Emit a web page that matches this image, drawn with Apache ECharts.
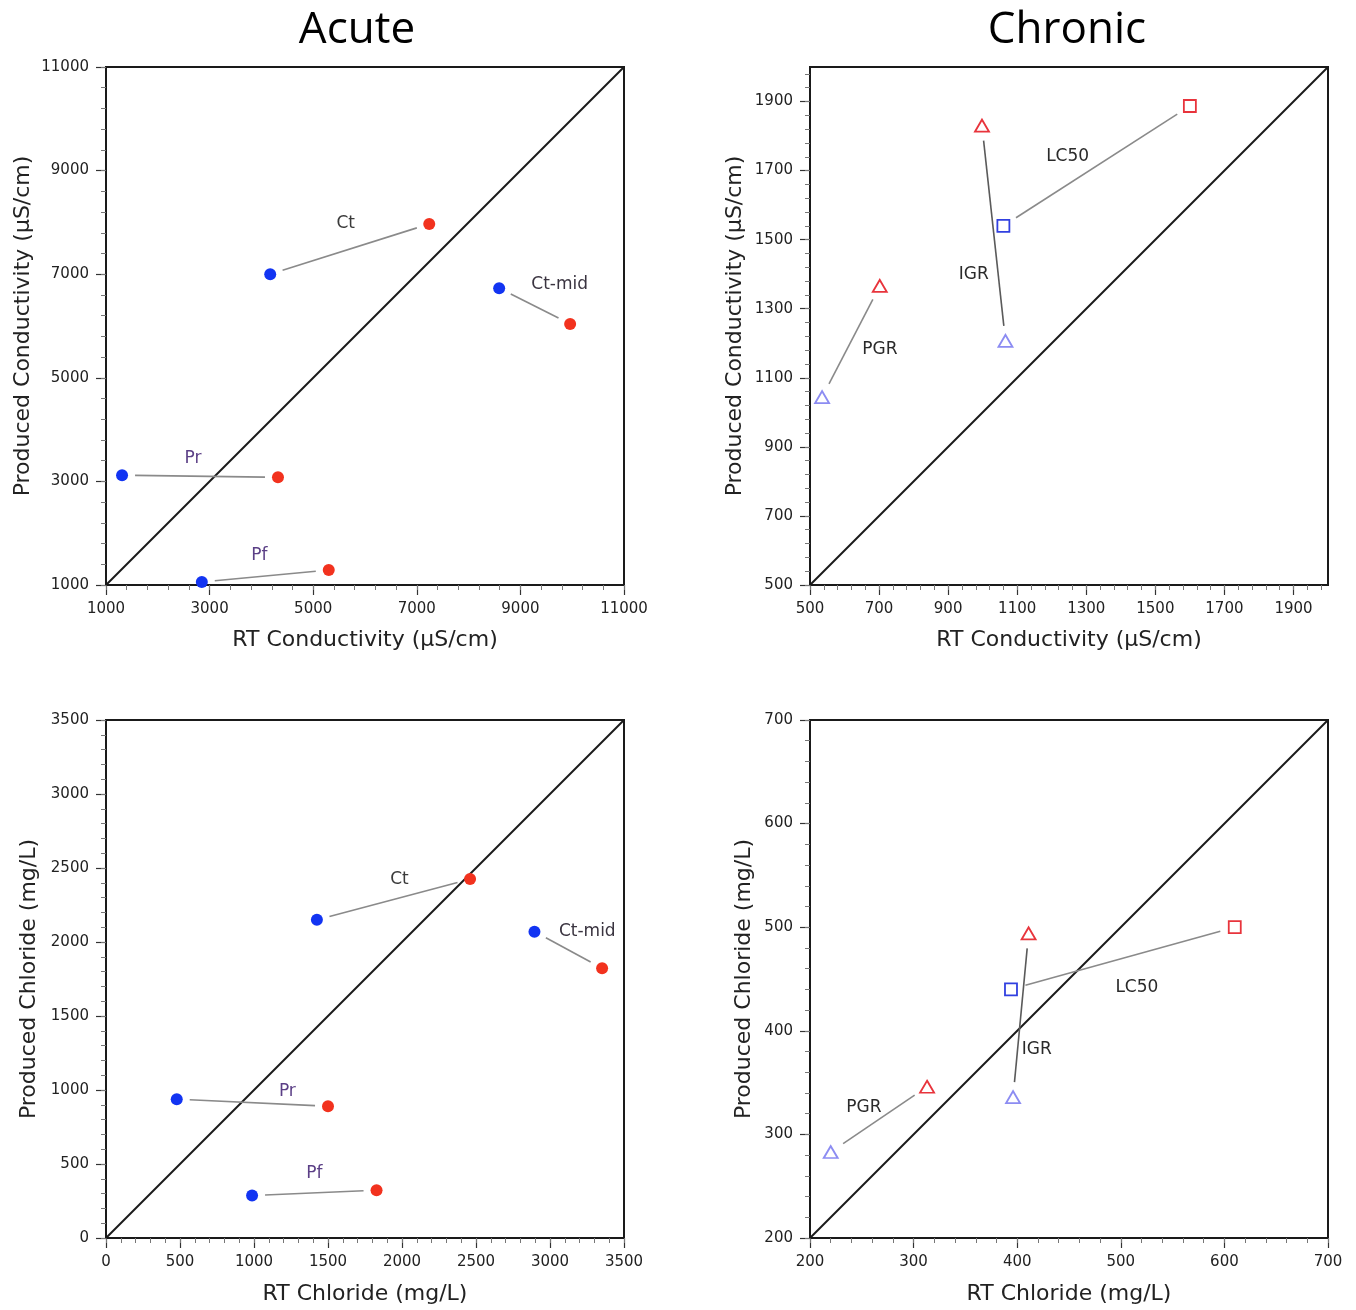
<!DOCTYPE html>
<html>
<head>
<meta charset="utf-8">
<script src="https://cdn.jsdelivr.net/npm/echarts@6/dist/echarts.min.js"></script>
<style>
html,body{margin:0;padding:0;background:#fff;}
#chart{width:1356px;height:1310px;}
</style>
</head>
<body>
<div id="chart"></div>
<script>
// ---------------- DATA ----------------
const PANEL_TITLES = ['Acute', 'Chronic'];

const ACUTE_LABELS = ['Ct', 'Ct-mid', 'Pr', 'Pf'];
const ACUTE_COND_BLUE = [[4170, 7000], [8590, 6730], [1310, 3120], [2850, 1060]];
const ACUTE_COND_RED  = [[7240, 7970], [9960, 6040], [4320, 3080], [5300, 1290]];
const ACUTE_CL_BLUE   = [[1425, 2150], [2895, 2070], [478, 938], [987, 287]];
const ACUTE_CL_RED    = [[2460, 2425], [3352, 1823], [1500, 890], [1828, 323]];

const CHRONIC_LABELS = ['LC50', 'IGR', 'PGR'];
const CHRONIC_COND_BLUE = [[1060, 1540], [1066, 1207], [535, 1044]];
const CHRONIC_COND_RED  = [[1600, 1887], [998, 1830], [702, 1366]];
const CHRONIC_CL_BLUE   = [[394, 440], [396, 336], [220, 283]];
const CHRONIC_CL_RED    = [[610, 500], [411, 494], [313, 346]];

// axis ranges and tick labels
const TICKS_ACUTE_COND   = [1000, 3000, 5000, 7000, 9000, 11000];
const TICKS_CHRONIC_COND = [500, 700, 900, 1100, 1300, 1500, 1700, 1900];
const TICKS_ACUTE_CL     = [0, 500, 1000, 1500, 2000, 2500, 3000, 3500];
const TICKS_CHRONIC_CL   = [200, 300, 400, 500, 600, 700];
const RANGE_ACUTE_COND   = [1000, 11000];
const RANGE_CHRONIC_COND = [500, 2000];
const RANGE_ACUTE_CL     = [0, 3500];
const RANGE_CHRONIC_CL   = [200, 700];

const X_NAMES = ['RT Conductivity (µS/cm)', 'RT Conductivity (µS/cm)', 'RT Chloride (mg/L)', 'RT Chloride (mg/L)'];
const Y_NAMES = ['Produced Conductivity (µS/cm)', 'Produced Conductivity (µS/cm)', 'Produced Chloride (mg/L)', 'Produced Chloride (mg/L)'];

// ---------------- STYLE / LAYOUT ----------------
const FONT = 'DejaVu Sans';
const GRIDS = [
  {left: 106, top: 67, width: 518, height: 518},
  {left: 810, top: 67, width: 518, height: 518},
  {left: 106, top: 720, width: 518, height: 518},
  {left: 810, top: 720, width: 518, height: 518}
];
const Y_NAME_GAP = [72, 64, 66, 55];
const X_NAME_GAP = [44, 44, 45, 45];

const BLUE = '#1234f2', RED = '#f2321e';
const C_RED = '#e8343c', C_BLUE_SQ = '#3140e0', C_BLUE_TRI = '#8c8cf2';
const CHRONIC_SYMBOLS = ['rect', 'triangle', 'triangle'];
const CHRONIC_BLUE_COLORS = [C_BLUE_SQ, C_BLUE_TRI, C_BLUE_TRI];

// label offsets (px) from the segment midpoint
const OFFS_ACUTE_COND = [[-4, -25], [25, -21], [-7, -18], [-6, -20]];
const OFFS_ACUTE_CL   = [[6, -20], [19, -18], [35, -11], [0, -19]];
const OFFS_CHRONIC_COND = [[-29, -9], [-20, 41], [29, 8]];
const OFFS_CHRONIC_CL   = [[14, 29], [16, 34], [-15, -12]];
const ACUTE_LABEL_COLORS = ['#3a3a3a', '#3a3440', '#5b3f86', '#5b3f86'];
const CHRONIC_LABEL_COLORS = ['#2a2a2a', '#2a2a2a', '#2a2a2a'];
const ACUTE_LINE_COLORS = ['#8a8a8a', '#8a8a8a', '#8a8a8a', '#8a8a8a'];
const CHRONIC_LINE_COLORS = ['#8a8a8a', '#5a5a5a', '#8a8a8a'];

// ---------------- BUILD ----------------
function minorTicks(range, ticks) {
  const step = (ticks[1] - ticks[0]) / 5;
  const out = [];
  for (let v = range[0]; v <= range[1] + 1e-9; v += step) out.push(Math.round(v * 1000) / 1000);
  return out;
}

const PANELS = [
  {range: RANGE_ACUTE_COND, ticks: TICKS_ACUTE_COND, blue: ACUTE_COND_BLUE, red: ACUTE_COND_RED, labels: ACUTE_LABELS, offs: OFFS_ACUTE_COND, acute: true},
  {range: RANGE_CHRONIC_COND, ticks: TICKS_CHRONIC_COND, blue: CHRONIC_COND_BLUE, red: CHRONIC_COND_RED, labels: CHRONIC_LABELS, offs: OFFS_CHRONIC_COND, acute: false},
  {range: RANGE_ACUTE_CL, ticks: TICKS_ACUTE_CL, blue: ACUTE_CL_BLUE, red: ACUTE_CL_RED, labels: ACUTE_LABELS, offs: OFFS_ACUTE_CL, acute: true},
  {range: RANGE_CHRONIC_CL, ticks: TICKS_CHRONIC_CL, blue: CHRONIC_CL_BLUE, red: CHRONIC_CL_RED, labels: CHRONIC_LABELS, offs: OFFS_CHRONIC_CL, acute: false}
];

const grid = [], xAxis = [], yAxis = [], series = [];

PANELS.forEach((p, i) => {
  grid.push(Object.assign({show: true, borderColor: '#1a1a1a', borderWidth: 2, backgroundColor: '#fff'}, GRIDS[i]));
  const minors = minorTicks(p.range, p.ticks);
  const labelStyle = {fontFamily: FONT, fontSize: 15, color: '#222', margin: 17,
                      formatter: v => String(v), customValues: p.ticks};
  const common = {gridIndex: i, type: 'value', min: p.range[0], max: p.range[1], splitLine: {show: false}};
  xAxis.push(Object.assign({}, common, {
    position: 'bottom',
    name: X_NAMES[i], nameLocation: 'middle', nameGap: X_NAME_GAP[i],
    nameTextStyle: {fontFamily: FONT, fontSize: 22, color: '#222'},
    axisLine: {show: true, lineStyle: {color: '#1a1a1a', width: 2}},
    axisTick: {show: true, length: 10, customValues: p.ticks, lineStyle: {color: '#333', width: 1.2}},
    axisLabel: labelStyle
  }));
  xAxis.push(Object.assign({}, common, {
    position: 'bottom', offset: 0,
    axisLine: {show: false}, axisLabel: {show: false},
    axisTick: {show: true, length: 5, customValues: minors, lineStyle: {color: '#777', width: 1}}
  }));
  yAxis.push(Object.assign({}, common, {
    position: 'left',
    name: Y_NAMES[i], nameLocation: 'middle', nameGap: Y_NAME_GAP[i],
    nameTextStyle: {fontFamily: FONT, fontSize: 22, color: '#222'},
    axisLine: {show: true, lineStyle: {color: '#1a1a1a', width: 2}},
    axisTick: {show: true, length: 10, customValues: p.ticks, lineStyle: {color: '#333', width: 1.2}},
    axisLabel: labelStyle
  }));
  yAxis.push(Object.assign({}, common, {
    position: 'left', offset: 0,
    axisLine: {show: false}, axisLabel: {show: false},
    axisTick: {show: true, length: 5, customValues: minors, lineStyle: {color: '#777', width: 1}}
  }));

  const xi = 2 * i, yi = 2 * i;
  // 1:1 line
  series.push({
    type: 'line', xAxisIndex: xi, yAxisIndex: yi, symbol: 'none', silent: true, z: 2,
    data: [[p.range[0], p.range[0]], [p.range[1], p.range[1]]],
    lineStyle: {color: '#1a1a1a', width: 2}
  });
  // connectors + labels
  const rows = p.blue.map((b, k) => [b[0], b[1], p.red[k][0], p.red[k][1]]);
  const gap = p.acute ? 13 : 15;
  const lineColors = p.acute ? ACUTE_LINE_COLORS : CHRONIC_LINE_COLORS;
  const labelColors = p.acute ? ACUTE_LABEL_COLORS : CHRONIC_LABEL_COLORS;
  series.push({
    type: 'custom', xAxisIndex: xi, yAxisIndex: yi, z: 3, silent: true,
    encode: {x: [0, 2], y: [1, 3]},
    data: rows,
    renderItem: function (params, api) {
      const a = api.coord([api.value(0), api.value(1)]);
      const b = api.coord([api.value(2), api.value(3)]);
      const dx = b[0] - a[0], dy = b[1] - a[1];
      const len = Math.hypot(dx, dy) || 1;
      const ux = dx / len, uy = dy / len;
      const k = params.dataIndex;
      const off = p.offs[k];
      return {
        type: 'group',
        children: [
          {type: 'line', shape: {x1: a[0] + ux * gap, y1: a[1] + uy * gap, x2: b[0] - ux * gap, y2: b[1] - uy * gap},
           style: {stroke: lineColors[k], lineWidth: 1.6}},
          {type: 'text', x: (a[0] + b[0]) / 2 + off[0], y: (a[1] + b[1]) / 2 + off[1],
           style: {text: p.labels[k], fill: labelColors[k], fontFamily: FONT, fontSize: 17,
                   align: 'center', verticalAlign: 'middle'}}
        ]
      };
    }
  });
  // points
  if (p.acute) {
    series.push({type: 'scatter', name: 'Group 1', xAxisIndex: xi, yAxisIndex: yi, z: 5,
      symbol: 'circle', symbolSize: 12, itemStyle: {color: BLUE, opacity: 1}, data: p.blue});
    series.push({type: 'scatter', name: 'Group 2', xAxisIndex: xi, yAxisIndex: yi, z: 5,
      symbol: 'circle', symbolSize: 12, itemStyle: {color: RED, opacity: 1}, data: p.red});
  } else {
    series.push({type: 'scatter', name: 'Group 1', xAxisIndex: xi, yAxisIndex: yi, z: 5,
      data: p.blue.map((v, k) => ({
        value: v, symbol: CHRONIC_SYMBOLS[k],
        symbolSize: CHRONIC_SYMBOLS[k] === 'rect' ? 12 : [14, 12],
        itemStyle: {color: 'rgba(255,255,255,0)', borderColor: CHRONIC_BLUE_COLORS[k], borderWidth: 1.8, opacity: 1}
      }))});
    series.push({type: 'scatter', name: 'Group 2', xAxisIndex: xi, yAxisIndex: yi, z: 5,
      data: p.red.map((v, k) => ({
        value: v, symbol: CHRONIC_SYMBOLS[k],
        symbolSize: CHRONIC_SYMBOLS[k] === 'rect' ? 12 : [14, 12],
        itemStyle: {color: 'rgba(255,255,255,0)', borderColor: C_RED, borderWidth: 1.8, opacity: 1}
      }))});
  }
});

const chart = echarts.init(document.getElementById('chart'), null, {renderer: 'canvas'});
chart.setOption({
  animation: false,
  backgroundColor: '#fff',
  grid, xAxis, yAxis, series,
  graphic: [
    {type: 'text', x: 357, y: 30, style: {text: PANEL_TITLES[0], fontFamily: 'Open Sans', fontSize: 44, fill: '#000', align: 'center', verticalAlign: 'middle'}},
    {type: 'text', x: 1067, y: 30, style: {text: PANEL_TITLES[1], fontFamily: 'Open Sans', fontSize: 44, fill: '#000', align: 'center', verticalAlign: 'middle'}}
  ]
});
</script>
</body>
</html>
